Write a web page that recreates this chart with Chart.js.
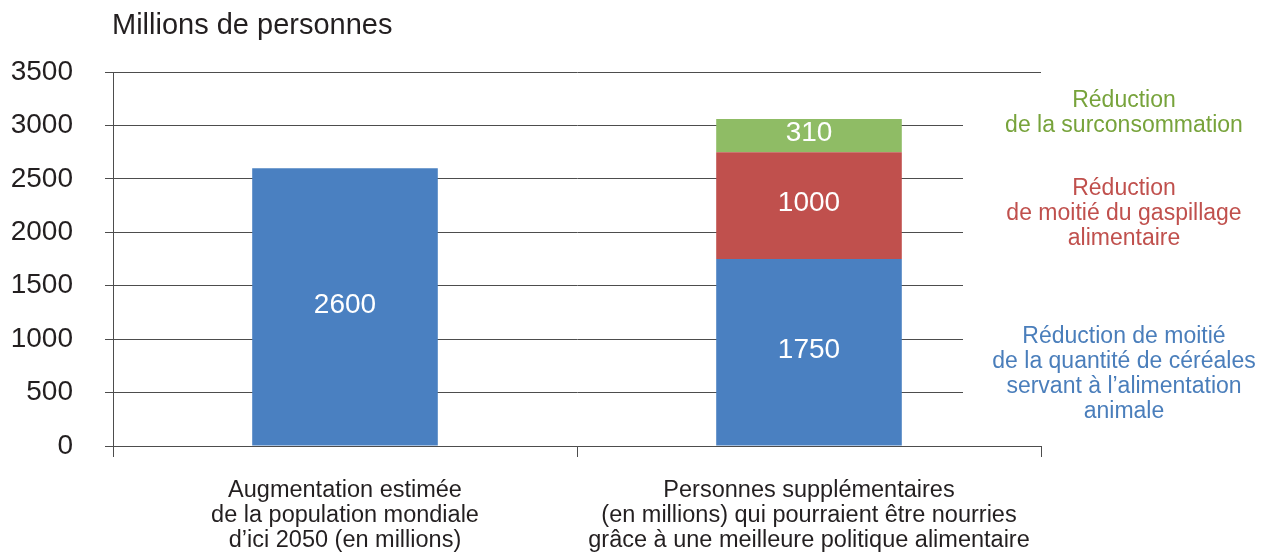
<!DOCTYPE html>
<html lang="fr">
<head>
<meta charset="utf-8">
<title>Millions de personnes</title>
<script src="https://cdn.jsdelivr.net/npm/chart.js@4/dist/chart.umd.min.js"></script>
<style>
  html, body { margin: 0; padding: 0; background: #fff; }
  #wrap { width: 1269px; height: 552px; }
</style>
</head>
<body>
<div id="wrap"><canvas id="foodChart"></canvas></div>
<script>
// Categories and series
const categories = [
    ['Augmentation estimée', 'de la population mondiale', 'd\u2019ici 2050 (en millions)'],
    ['Personnes supplémentaires', '(en millions) qui pourraient être nourries', 'grâce à une meilleure politique alimentaire']
];
const cerealsValues = [2600, 1750];
const wasteValues = [null, 1000];
const overconsumptionValues = [null, 310];
const yTicks = [0, 500, 1000, 1500, 2000, 2500, 3000, 3500];

const seriesNotes = [
    { lines: ['Réduction', 'de la surconsommation'], color: '#77a33b', top: 101 },
    { lines: ['Réduction', 'de moitié du gaspillage', 'alimentaire'], color: '#c0504d', top: 189 },
    { lines: ['Réduction de moitié', 'de la quantité de céréales', 'servant à l\u2019alimentation', 'animale'], color: '#4a7ebb', top: 337 }
];

const FONT = "'Liberation Sans', Arial, sans-serif";

// White box behind the notes: the inner grid lines stop short of the text
const notesBackground = {
    id: 'notesBackground',
    beforeDatasetsDraw(chart) {
        const ctx = chart.ctx;
        const area = chart.chartArea;
        ctx.save();
        ctx.fillStyle = '#ffffff';
        ctx.fillRect(963, area.top + 4, chart.width - 963, area.bottom - area.top - 8);
        ctx.restore();
    }
};

// Values written in white inside each bar segment, plus the notes on the right
const annotations = {
    id: 'annotations',
    afterDatasetsDraw(chart) {
        const ctx = chart.ctx;
        ctx.save();
        ctx.textAlign = 'center';
        ctx.textBaseline = 'middle';
        ctx.font = '28px ' + FONT;
        ctx.fillStyle = '#ffffff';
        chart.data.datasets.forEach((ds, i) => {
            chart.getDatasetMeta(i).data.forEach((bar, j) => {
                const v = ds.data[j];
                if (v == null) return;
                const p = bar.getCenterPoint();
                ctx.fillText(String(v), p.x, p.y - 2);
            });
        });

        ctx.font = '23px ' + FONT;
        seriesNotes.forEach(note => {
            ctx.fillStyle = note.color;
            note.lines.forEach((line, k) => {
                ctx.fillText(line, 1124, note.top + k * 24.8);
            });
        });

        ctx.textAlign = 'left';
        ctx.textBaseline = 'alphabetic';
        ctx.fillStyle = '#231f20';
        ctx.font = '29px ' + FONT;
        ctx.fillText('Millions de personnes', 112, 34);
        ctx.restore();
    }
};

new Chart(document.getElementById('foodChart'), {
    type: 'bar',
    data: {
        labels: categories,
        datasets: [{
            label: 'Céréales',
            data: cerealsValues,
            backgroundColor: '#4a80c1'
        }, {
            label: 'Gaspillage',
            data: wasteValues,
            backgroundColor: '#c0504d'
        }, {
            label: 'Surconsommation',
            data: overconsumptionValues,
            backgroundColor: '#8fbc65'
        }]
    },
    options: {
        responsive: true,
        maintainAspectRatio: false,
        animation: false,
        layout: { padding: { top: 72, right: 228, left: 0, bottom: 0 } },
        datasets: { bar: { categoryPercentage: 1, barPercentage: 0.4 } },
        plugins: {
            legend: { display: false },
            tooltip: { enabled: false }
        },
        scales: {
            x: {
                stacked: true,
                afterFit: scale => { scale.height = 106; },
                grid: {
                    offset: true,
                    drawOnChartArea: false,
                    drawTicks: true,
                    tickLength: 11,
                    color: '#4d4d4d'
                },
                border: { display: true, color: '#4d4d4d' },
                ticks: {
                    color: '#231f20',
                    padding: 21,
                    maxRotation: 0,
                    font: { family: FONT, size: 23.5, lineHeight: 1.06 }
                }
            },
            y: {
                stacked: true,
                min: 0,
                max: 3500,
                afterFit: scale => { scale.width = 113; },
                afterBuildTicks: scale => {
                    scale.ticks = yTicks.map(v => ({ value: v }));
                },
                grid: {
                    drawTicks: true,
                    tickLength: 8,
                    color: '#4d4d4d'
                },
                border: { display: true, color: '#4d4d4d' },
                ticks: {
                    color: '#231f20',
                    padding: 32,
                    font: { family: FONT, size: 28 },
                    callback: value => String(value)
                }
            }
        }
    },
    plugins: [notesBackground, annotations]
});
</script>
</body>
</html>
